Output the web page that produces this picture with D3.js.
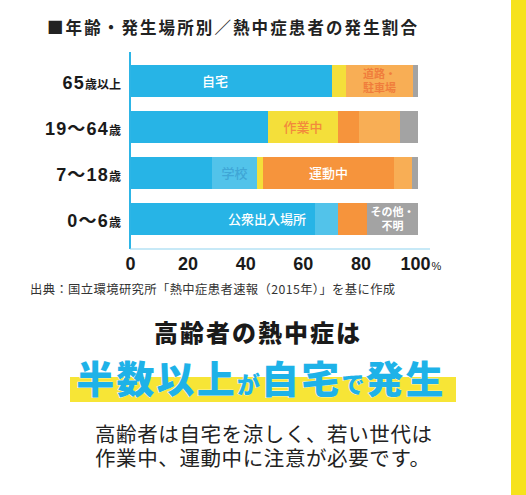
<!DOCTYPE html>
<html><head><meta charset="utf-8">
<script src="https://cdn.jsdelivr.net/npm/d3@7"></script>
<style>
html,body{margin:0;padding:0;background:#fff;}
svg{display:block;}
</style></head>
<body>
<svg id="c" width="526" height="495"></svg>
<script>
const ages = ["65歳以上", "19〜64歳", "7〜18歳", "0〜6歳"];
const places = ["自宅", "公衆出入場所", "学校", "作業中", "運動中", "道路・駐車場", "その他・不明"];
const jitaku  = [59.0, 25.0, 15.0, 30.9];
const koshu   = [11.1, 22.9, 13.5, 33.3];
const gakko   = [0,    0,    15.6, 8.0];
const sagyo   = [4.9,  24.3, 2.1,  0];
const undo    = [0,    7.3,  45.5, 10.1];
const doro    = [23.3, 14.2, 6.2,  0];
const sonota  = [1.7,  6.3,  2.1,  17.7];
const xTicks = [0, 20, 40, 60, 80, 100];
const seriesValues = [jitaku, koshu, gakko, sagyo, undo, doro, sonota];
const colors = ["#27b4e6", "#27b4e6", "#52c3ea", "#f4df3a", "#f6943c", "#f8ae55", "#a3a3a3"];
// in-bar labels: [place index, age index, lines, color]
const barLabels = [
  [0, 0, ["自宅"], "#ffffff"],
  [5, 0, ["道路・", "駐車場"], "#f07d3c"],
  [3, 1, ["作業中"], "#f28a3c"],
  [2, 2, ["学校"], "#3fa6d6"],
  [4, 2, ["運動中"], "#ffffff"],
  [1, 3, ["公衆出入場所"], "#ffffff"],
  [6, 3, ["その他・", "不明"], "#ffffff"]
];

const svg = d3.select("#c");
const cjk = "'Noto Sans CJK JP', 'Noto Sans', sans-serif";
const lat = "'Liberation Sans', Arial, 'Noto Sans CJK JP', sans-serif";

// right yellow strip
svg.append("rect").attr("x", 511).attr("y", 0).attr("width", 15).attr("height", 495).attr("fill", "#f6e21c");

// title
svg.append("text").attr("x", 47).attr("y", 34)
  .attr("font-family", cjk).attr("font-weight", 700).attr("font-size", 16.5)
  .attr("letter-spacing", 2.1).attr("fill", "#222")
  .text("■年齢・発生場所別／熱中症患者の発生割合");

const x = d3.scaleLinear().domain([0, 100]).range([130, 418]);
const y = d3.scaleBand().domain(ages).range([58, 242]).paddingInner(0.283).paddingOuter(0.1415);

const rows = ages.map((a, i) => {
  const r = {age: a};
  places.forEach((p, j) => r[p] = seriesValues[j][i]);
  return r;
});
const stack = d3.stack().keys(places)(rows);

svg.append("g").attr("shape-rendering", "crispEdges").selectAll("g").data(stack).join("g")
  .attr("fill", (d, i) => colors[i])
  .selectAll("rect").data(d => d).join("rect")
  .attr("x", d => x(d[0]))
  .attr("y", d => y(d.data.age))
  .attr("width", d => Math.max(0, x(d[1]) - x(d[0])))
  .attr("height", y.bandwidth());

// in-bar labels
barLabels.forEach(([pi, ai, lines, col]) => {
  const seg = stack[pi][ai];
  const cx = (x(seg[0]) + x(seg[1])) / 2;
  const cy = y(ages[ai]) + y.bandwidth() / 2;
  const fs = lines.length > 1 ? 11 : 13;
  const lh = fs + 2.5;
  const t = svg.append("text").attr("text-anchor", "middle")
    .attr("font-family", cjk).attr("font-weight", lines.length > 1 ? 700 : 500)
    .attr("font-size", fs).attr("fill", col);
  lines.forEach((ln, k) => {
    t.append("tspan").attr("x", cx)
      .attr("y", cy + (k - (lines.length - 1) / 2) * lh + fs * 0.36)
      .text(ln);
  });
});

// axes lines
const axisColor = "#2db5e6";
svg.append("line").attr("x1", x(0)).attr("x2", x(0)).attr("y1", 52).attr("y2", 249)
  .attr("stroke", axisColor).attr("stroke-width", 2);
svg.append("line").attr("x1", x(0)).attr("x2", x(100) + 12).attr("y1", 249).attr("y2", 249)
  .attr("stroke", "#8fd3ef").attr("stroke-width", 1.2);

// x tick labels
const xg = svg.append("g").attr("transform", "translate(0,256)")
  .call(d3.axisBottom(x).tickValues(xTicks).tickSize(0).tickPadding(0).tickFormat(d3.format("d")));
xg.select(".domain").remove();
xg.selectAll("text").attr("font-family", lat).attr("font-weight", 700).attr("font-size", 18)
  .attr("fill", "#1a1a1a").attr("dy", "0.75em");
xg.selectAll(".tick").filter(d => d === 100).select("text")
  .attr("text-anchor", "start").attr("dx", -18)
  .append("tspan").attr("font-size", 11).attr("font-weight", 400).attr("dx", 1).text("%");

// y labels
const yLabelParts = {
  "65歳以上": [["65", 18], ["歳以上", 12]],
  "19〜64歳": [["19〜64", 18], ["歳", 12]],
  "7〜18歳": [["7〜18", 18], ["歳", 12]],
  "0〜6歳": [["0〜6", 18], ["歳", 12]]
};
ages.forEach(a => {
  const t = svg.append("text").attr("x", 121).attr("y", y(a) + y.bandwidth() / 2 + 8)
    .attr("text-anchor", "end").attr("font-family", lat).attr("font-weight", 700).attr("fill", "#1a1a1a");
  yLabelParts[a].forEach(([s, fs]) => {
    t.append("tspan").attr("font-size", fs).attr("font-family", fs < 14 ? cjk : lat)
      .attr("letter-spacing", fs < 14 ? 0 : 1.2).text(s);
  });
});

// source
svg.append("text").attr("x", 30).attr("y", 294)
  .attr("font-family", cjk).attr("font-size", 12.3).attr("letter-spacing", 0.4).attr("fill", "#333")
  .text("出典：国立環境研究所「熱中症患者速報（2015年）」を基に作成");

// headline
svg.append("text").attr("x", 258).attr("y", 342).attr("text-anchor", "middle")
  .attr("font-family", cjk).attr("font-weight", 900).attr("font-size", 24).attr("letter-spacing", 2)
  .attr("fill", "#1a1a1a").text("高齢者の熱中症は");

svg.append("rect").attr("x", 70).attr("y", 377).attr("width", 386).attr("height", 25).attr("fill", "#f7e536");
const big = svg.append("text").attr("x", 261).attr("y", 393).attr("text-anchor", "middle")
  .attr("font-family", cjk).attr("font-weight", 900).attr("fill", "#1eb2e8")
  .attr("stroke", "#ffffff").attr("stroke-width", 0.6).attr("paint-order", "stroke");
[["半数以上", 38], ["が", 23], ["自宅", 38], ["で", 23], ["発生", 38]].forEach(([s, fs]) => {
  big.append("tspan").attr("font-size", fs).attr("letter-spacing", fs > 30 ? 2.2 : 1).text(s);
});

// sub text
svg.append("text").attr("x", 95).attr("y", 442)
  .attr("font-family", cjk).attr("font-size", 20.5).attr("letter-spacing", 0.6).attr("fill", "#222")
  .text("高齢者は自宅を涼しく、若い世代は");
svg.append("text").attr("x", 95).attr("y", 466)
  .attr("font-family", cjk).attr("font-size", 20.5).attr("letter-spacing", 0.6).attr("fill", "#222")
  .text("作業中、運動中に注意が必要です。");
</script>
</body></html>
